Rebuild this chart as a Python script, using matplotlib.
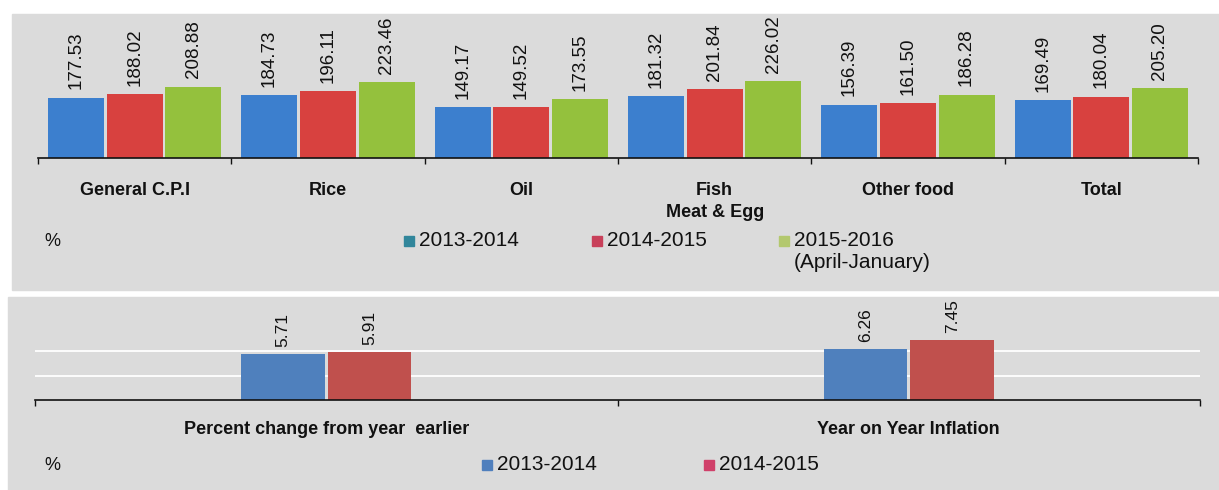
import numpy as np
import matplotlib
matplotlib.use("Agg")
import matplotlib.pyplot as plt
from matplotlib.patches import Rectangle

plt.rcParams["font.family"] = ["Liberation Sans", "DejaVu Sans"]

# Price index by commodity group
cpi_groups = ["General C.P.I", "Rice", "Oil", "Fish\nMeat & Egg", "Other food", "Total"]
cpi_2013_14 = [177.53, 184.73, 149.17, 181.32, 156.39, 169.49]
cpi_2014_15 = [188.02, 196.11, 149.52, 201.84, 161.50, 180.04]
cpi_2015_16 = [208.88, 223.46, 173.55, 226.02, 186.28, 205.20]
cpi_series = ["2013-2014", "2014-2015", "2015-2016\n(April-January)"]

# Inflation rates
infl_groups = ["Percent change from year  earlier", "Year on Year Inflation"]
infl_2013_14 = [5.71, 6.26]
infl_2014_15 = [5.91, 7.45]
infl_series = ["2013-2014", "2014-2015"]

W, H = 1219, 490
fig = plt.figure(figsize=(W / 100, H / 100), dpi=100)
fig.patch.set_facecolor("white")

def fx(px):
    return px / W

def fy(py):
    return 1 - py / H

# grey panel backgrounds
panel_bg = "#dbdbdb"
fig.add_artist(Rectangle((fx(12), fy(290)), fx(W - 12), 276 / H,
                         transform=fig.transFigure, color=panel_bg, zorder=0))
fig.add_artist(Rectangle((fx(8), fy(490)), fx(W - 8), 193 / H,
                         transform=fig.transFigure, color=panel_bg, zorder=0))

def style_axis(ax, n, pad):
    ax.set_facecolor("none")
    for s in ["top", "left", "right"]:
        ax.spines[s].set_visible(False)
    ax.spines["bottom"].set_linewidth(1.2)
    ax.spines["bottom"].set_color("#111111")
    ax.set_yticks([])
    ax.set_xlim(-0.5, n - 0.5)
    ax.set_xticks(np.arange(n))
    ax.set_xticks(np.arange(n + 1) - 0.5, minor=True)
    ax.tick_params(axis="x", which="major", length=0, pad=pad)
    ax.tick_params(axis="x", which="minor", length=4, width=1, color="#111111")

def legend_row(y, x_pct, entries):
    # y is the vertical centre of the first text line, in pixels from the top
    fig.text(fx(x_pct), fy(y), "%", fontsize=13, va="center", ha="left", color="#111111")
    for x, color, label in entries:
        fig.add_artist(Rectangle((fx(x), fy(y + 5)), fx(10), 10 / H,
                                 transform=fig.transFigure, color=color, zorder=3))
        fig.text(fx(x + 15), fy(y - 10), label, fontsize=15, va="top",
                 ha="left", color="#111111", linespacing=1.2)

# ---- top panel: CPI ----
ax1 = fig.add_axes([fx(38), fy(158), fx(1160), 138 / H])
style_axis(ax1, len(cpi_groups), 17)
ax1.set_ylim(0, 405)
x1 = np.arange(len(cpi_groups))
top_colors = ["#3c7fce", "#d8413f", "#94c13d"]
for k, vals in enumerate([cpi_2013_14, cpi_2014_15, cpi_2015_16]):
    bars = ax1.bar(x1 + (k - 1) * 0.303, vals, width=0.29, color=top_colors[k], zorder=2)
    for b, v in zip(bars, vals):
        ax1.annotate(f"{v:.2f}", (b.get_x() + b.get_width() / 2, v), xytext=(0, 6),
                     textcoords="offset points", rotation=90, ha="center", va="bottom",
                     fontsize=13.5, color="#111111")
ax1.set_xticklabels(cpi_groups, fontsize=13, fontweight="bold", color="#111111",
                    linespacing=1.45, va="top")

legend_row(241, 44, [(404, "#31869b", cpi_series[0]),
                     (592, "#c8405a", cpi_series[1]),
                     (779, "#b3c86e", cpi_series[2])])

# ---- bottom panel: inflation ----
ax2 = fig.add_axes([fx(35), fy(400), fx(1165), 95 / H])
style_axis(ax2, len(infl_groups), 15)
ax2.set_ylim(0, 95 / 8.1)
for g in [3, 6]:
    ax2.axhline(g, color="white", lw=1.3, zorder=1)
x2 = np.arange(len(infl_groups))
bot_colors = ["#4f80bd", "#c0504d"]
for k, vals in enumerate([infl_2013_14, infl_2014_15]):
    bars = ax2.bar(x2 + (k - 0.5) * 0.149, vals, width=0.143, color=bot_colors[k], zorder=2)
    for b, v in zip(bars, vals):
        ax2.annotate(f"{v:.2f}", (b.get_x() + b.get_width() / 2, v), xytext=(0, 5),
                     textcoords="offset points", rotation=90, ha="center", va="bottom",
                     fontsize=12.5, color="#111111")
ax2.set_xticklabels(infl_groups, fontsize=13, fontweight="bold", color="#111111")

legend_row(465, 44, [(482, "#4f7fbd", infl_series[0]),
                     (704, "#d0406a", infl_series[1])])

fig.savefig("out.png", dpi=100)
